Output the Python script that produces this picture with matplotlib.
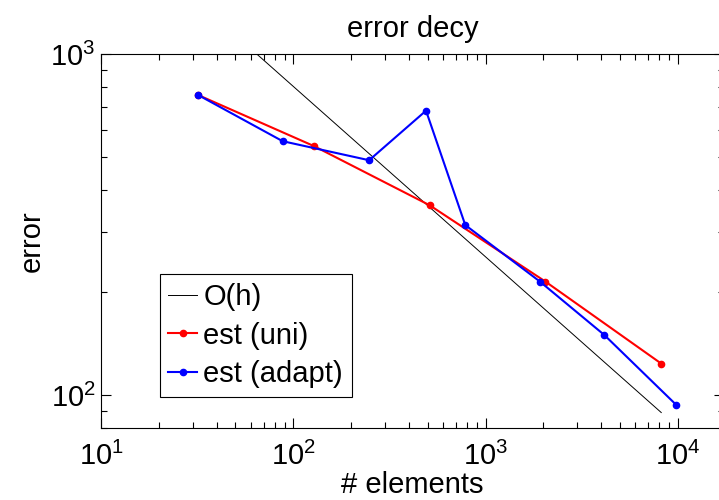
import matplotlib
matplotlib.use("Agg")
import matplotlib.pyplot as plt
from matplotlib.ticker import LogLocator, NullFormatter

plt.rcParams['font.family'] = ['Liberation Sans', 'DejaVu Sans']
plt.rcParams['mathtext.fontset'] = 'custom'
plt.rcParams['mathtext.rm'] = 'Liberation Sans'
plt.rcParams['mathtext.it'] = 'Liberation Sans:italic'

# data
n_uni = [32, 128, 512, 2048, 8192]
err_uni = [758, 537, 360, 215, 123.6]
n_adapt = [32, 88, 248, 490, 784, 1918, 4140, 9770]
err_adapt = [758, 555, 488, 682, 315, 215, 150, 93.7]
n_oh = [32, 8192]
err_oh = [1420, 88.8]

fig = plt.figure(figsize=(7.19, 5.0), dpi=100)
# right edge of the axes sits just past the picture, as in the reference
ax = fig.add_axes([101/719, 1 - 428/500, 623/719, 374/500])

ax.plot(n_oh, err_oh, color='black', linewidth=0.7, label='O(h)')
ax.plot(n_uni, err_uni, color='red', linewidth=1.5, marker='o', markersize=4.5, label='est (uni)')
ax.plot(n_adapt, err_adapt, color='blue', linewidth=1.5, marker='o', markersize=4.5, label='est (adapt)')

ax.set_xscale('log')
ax.set_yscale('log')
ax.set_xlim(10, 10**(1 + 623/192.3))
ax.set_ylim(80, 1000)

ax.xaxis.set_major_locator(LogLocator(base=10, numticks=10))
ax.xaxis.set_minor_locator(LogLocator(base=10, subs=range(2, 10), numticks=20))
ax.yaxis.set_major_locator(LogLocator(base=10, numticks=10))
ax.yaxis.set_minor_locator(LogLocator(base=10, subs=range(2, 10), numticks=20))
ax.xaxis.set_minor_formatter(NullFormatter())
ax.yaxis.set_minor_formatter(NullFormatter())

ax.tick_params(which='both', direction='in', top=True, right=True, labelsize=21, width=0.8)
ax.tick_params(which='major', length=7)
ax.tick_params(which='minor', length=4)
ax.tick_params(axis='x', which='major', pad=10)
ax.tick_params(axis='y', which='major', pad=4)
for s in ax.spines.values():
    s.set_linewidth(0.8)

ax.set_title('error decy', fontsize=21, pad=12)
ax.set_xlabel('# elements', fontsize=21, labelpad=0)
ax.set_ylabel('error', fontsize=21, labelpad=3)

leg = ax.legend(loc='lower left', bbox_to_anchor=(0.094, 0.083), borderaxespad=0,
                fontsize=21, numpoints=1, handlelength=1.0, handletextpad=0.2,
                labelspacing=0.36, borderpad=0.3, fancybox=False, framealpha=1)
leg.get_frame().set_edgecolor('black')
leg.get_frame().set_linewidth(0.8)

fig.savefig('out.png', dpi=100)
